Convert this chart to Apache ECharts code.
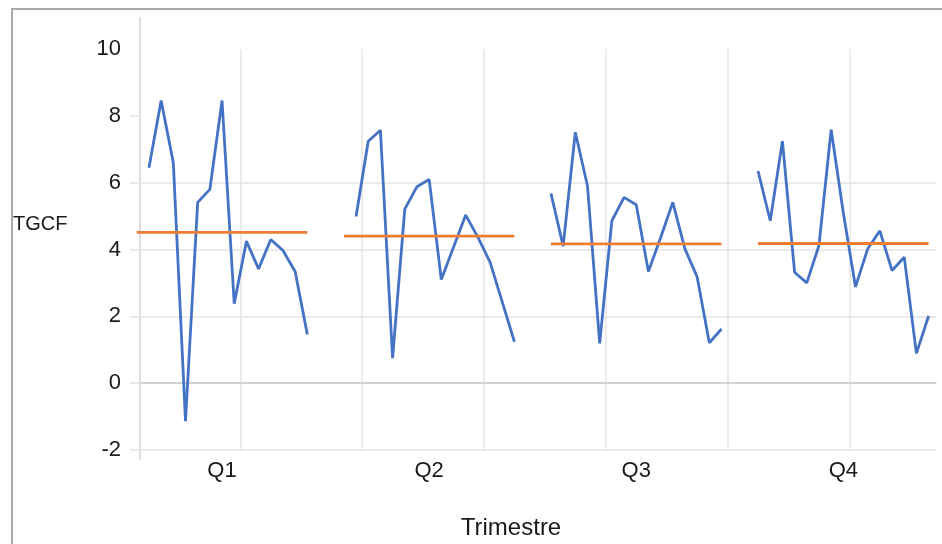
<!DOCTYPE html>
<html>
<head>
<meta charset="utf-8">
<script src="https://cdn.jsdelivr.net/npm/echarts@6/dist/echarts.min.js"></script>
<style>
  html, body { margin: 0; padding: 0; background: #ffffff; }
  #chart { width: 942px; height: 544px; }
</style>
</head>
<body>
<div id="chart"></div>
<script>
// Quarterly TGCF values, one entry per year within each quarter.
// The series starts in Q3, so the first year has no Q1 / Q2 value.
const quarters = ['Q1', 'Q2', 'Q3', 'Q4'];
const q1Values = [null, 6.45, 8.46, 6.6, -1.14, 5.41, 5.8, 8.46, 2.38, 4.25, 3.42, 4.3, 3.97, 3.34, 1.46];
const q2Values = [null, 4.99, 7.24, 7.57, 0.75, 5.21, 5.88, 6.1, 3.1, 4.07, 5.03, 4.37, 3.62, 2.43, 1.24];
const q3Values = [5.68, 4.10, 7.51, 5.9, 1.19, 4.86, 5.56, 5.34, 3.34, 4.35, 5.41, 4.02, 3.18, 1.21, 1.62];
const q4Values = [6.35, 4.86, 7.24, 3.32, 3.0, 4.12, 7.59, 5.1, 2.88, 4.02, 4.56, 3.37, 3.77, 0.89, 2.01];
// Mean of each quarter, drawn as a flat line across its panel
const quarterMeans = [4.51, 4.40, 4.17, 4.18];
const yMin = -2, yMax = 10, yStep = 2;

const quarterValues = [q1Values, q2Values, q3Values, q4Values];

// Each quarter panel is 17 slots wide on the shared x scale: 15 years plus padding.
// The last panel runs slightly past the right edge, so the visible range stops short of 68.
const SLOTS_PER_PANEL = 17;
const PANEL_PAD = 1.5;
const xVisibleMax = 67.6;
const panelCenters = quarters.map((q, k) => k * SLOTS_PER_PANEL + SLOTS_PER_PANEL / 2);

const FONT = 'Liberation Sans';
const TEXT = '#1a1a1a';
const GRID_LINE = '#e4e4e4';
const AXIS_LINE = '#cccccc';
const BLUE = '#4472C4';
const ORANGE = '#ED7D31';

const series = [];
quarterValues.forEach((vals, k) => {
  const base = k * SLOTS_PER_PANEL + PANEL_PAD;
  const pts = [];
  vals.forEach((v, i) => { if (v !== null) pts.push([base + i, v]); });
  series.push({
    name: quarters[k],
    type: 'line',
    xAxisIndex: 0,
    yAxisIndex: 0,
    data: pts,
    showSymbol: false,
    symbol: 'none',
    lineStyle: { color: BLUE, width: 2.8 },
    z: 3,
    animation: false
  });
  series.push({
    name: quarters[k] + ' moyenne',
    type: 'line',
    xAxisIndex: 0,
    yAxisIndex: 0,
    data: [[base, quarterMeans[k]], [base + vals.length - 1, quarterMeans[k]]],
    showSymbol: false,
    symbol: 'none',
    lineStyle: { color: ORANGE, width: 2.8 },
    z: 4,
    animation: false
  });
});

const chart = echarts.init(document.getElementById('chart'), null, { renderer: 'canvas' });

chart.setOption({
  backgroundColor: '#ffffff',
  animation: false,
  textStyle: { fontFamily: FONT },
  grid: [
    // panel grid: quarter slots, vertical guides and quarter labels
    { left: 118.5, right: 0, top: 49, height: 401 },
    // value grid: y axis, horizontal guides and the baseline
    { left: 140, right: 6, top: 49, height: 401 }
  ],
  xAxis: [
    {
      gridIndex: 0, type: 'value', position: 'bottom',
      min: 0, max: xVisibleMax, interval: 10,
      axisLine: { show: false }, axisTick: { show: false },
      axisLabel: {
        show: true, customValues: panelCenters,
        color: TEXT, fontSize: 22, fontFamily: FONT, margin: 10,
        formatter: function (v) {
          const idx = panelCenters.findIndex(c => Math.abs(c - v) < 1e-6);
          return idx >= 0 ? quarters[idx] : '';
        }
      },
      splitLine: { show: true, showMinLine: false, showMaxLine: false, lineStyle: { color: GRID_LINE, width: 1.5 } }
    },
    {
      gridIndex: 1, type: 'value', min: 0, max: 1,
      axisLine: { show: true, lineStyle: { color: AXIS_LINE, width: 1.5 } },
      axisTick: { show: false }, axisLabel: { show: false }, splitLine: { show: false }
    }
  ],
  yAxis: [
    { gridIndex: 0, type: 'value', min: yMin, max: yMax, show: false },
    {
      gridIndex: 1, type: 'value', min: yMin, max: yMax, interval: yStep,
      axisLine: { show: false },
      axisTick: { show: true, length: 10, lineStyle: { color: GRID_LINE, width: 1.5 },
                  customValues: [-2, 0, 2, 4, 6, 8] },
      axisLabel: { color: TEXT, fontSize: 22, fontFamily: FONT, margin: 19 },
      splitLine: { show: true, showMaxLine: false, lineStyle: { color: GRID_LINE, width: 1.5 } }
    }
  ],
  graphic: [
    { type: 'rect', silent: true, z: -1,
      shape: { x: 12, y: 9, width: 1000, height: 600 },
      style: { fill: null, stroke: '#aaaaaa', lineWidth: 2 } },
    { type: 'line', silent: true,
      shape: { x1: 140, y1: 17, x2: 140, y2: 460 },
      style: { stroke: '#d4d4d4', lineWidth: 1.5 } },
    { type: 'text', silent: true,
      style: { x: 13, y: 224, text: 'TGCF', fill: TEXT, font: '20px "Liberation Sans"', textAlign: 'left', textVerticalAlign: 'middle' } },
    { type: 'text', silent: true,
      style: { x: 511, y: 528, text: 'Trimestre', fill: TEXT, font: '24px "Liberation Sans"', textAlign: 'center', textVerticalAlign: 'middle' } }
  ],
  series: series
});
</script>
</body>
</html>
